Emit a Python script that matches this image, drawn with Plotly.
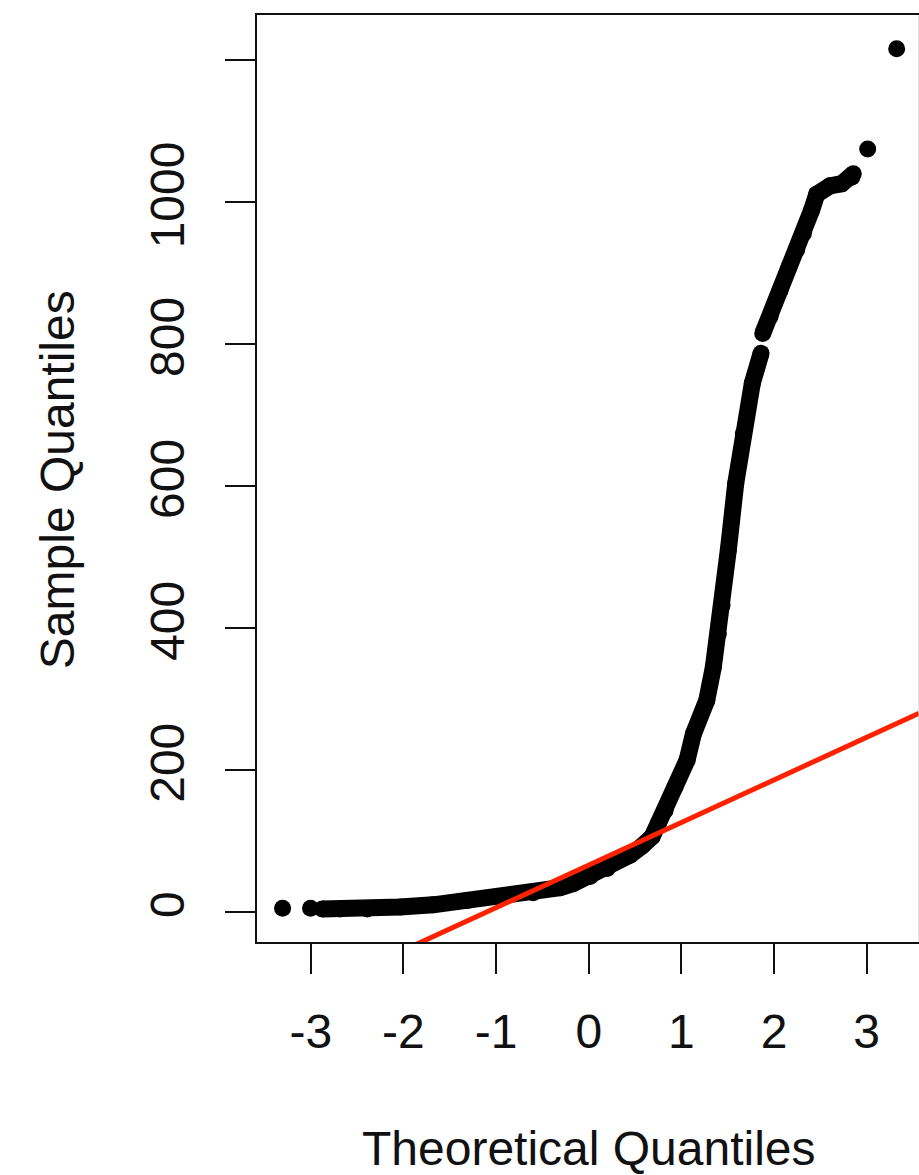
import plotly.graph_objects as go

# Theoretical (normal) quantiles and sorted sample values.
# None separates groups of points that do not touch each other.
theoretical_q = [-3.305, None, -3.003, None,
                 -2.877, -2.682, -2.391, -2.035, -1.679, -1.312, -0.956, -0.600,
                 -0.309, -0.168, 0.015, 0.199, 0.447, 0.576, 0.684, 0.752, 0.824,
                 0.932, 1.062, 1.130, 1.274, 1.345, 1.399, 1.439, 1.507, 1.587,
                 1.669, 1.766, 1.860, None,
                 1.878, 1.957, 2.065, 2.162, 2.245, 2.317, 2.407, 2.461, 2.605,
                 2.731, 2.839, 2.856, None,
                 3.011, None, 3.324]
sample_q = [5, None, 5, None,
            4, 4, 4, 7, 10, 16, 21, 27,
            34, 40, 50, 61, 80, 93, 106, 125, 143,
            176, 214, 251, 298, 345, 392, 432, 510, 604,
            674, 745, 787, None,
            815, 839, 876, 909, 933, 956, 989, 1011, 1023,
            1026, 1035, 1040, None,
            1075, None, 1216]

# qqline (through the quartiles)
qqline_intercept = 66.0
qqline_slope = 60.0

x_ticks = [-3, -2, -1, 0, 1, 2, 3]
y_ticks = [0, 200, 400, 600, 800, 1000, 1200]
y_tick_labels = ["0", "200", "400", "600", "800", "1000", ""]

x_range = [-3.581, 3.565]
y_range = [-42.4, 1263.7]

FONT = "Liberation Sans, Arial, Helvetica, sans-serif"

fig = go.Figure()

fig.add_trace(go.Scatter(
    x=theoretical_q, y=sample_q,
    mode="lines+markers",
    line=dict(color="black", width=17),
    marker=dict(color="black", size=17, line=dict(width=0)),
    connectgaps=False,
    hoverinfo="x+y",
    showlegend=False,
))

line_x = list(x_range)
line_y = [qqline_intercept + qqline_slope * v for v in line_x]
fig.add_trace(go.Scatter(
    x=line_x, y=line_y, mode="lines",
    line=dict(color="#ff2200", width=5),
    showlegend=False, hoverinfo="skip",
))

fig.update_layout(
    width=919, height=1175,
    margin=dict(l=257, r=0, t=15, b=233),
    paper_bgcolor="white", plot_bgcolor="white",
    font=dict(family=FONT, size=48, color="black"),
    showlegend=False,
    xaxis=dict(
        range=x_range, tickmode="array", tickvals=x_ticks,
        ticktext=[str(v) for v in x_ticks],
        ticks="outside", ticklen=30, tickwidth=2, tickcolor="#111",
        showline=True, linewidth=2, linecolor="#111", mirror=True,
        showgrid=False, zeroline=False,
        tickfont=dict(family=FONT, size=48, color="#111"),
        ticklabelstandoff=16,
    ),
    yaxis=dict(
        range=y_range, tickmode="array", tickvals=y_ticks,
        ticktext=y_tick_labels, tickangle=-90,
        ticks="outside", ticklen=30, tickwidth=2, tickcolor="#111",
        showline=True, linewidth=2, linecolor="#111", mirror=False,
        showgrid=False, zeroline=False,
        tickfont=dict(family=FONT, size=48, color="#111"),
        ticklabelstandoff=22,
    ),
    shapes=[dict(type="line", xref="paper", yref="paper", x0=1, x1=1, y0=0, y1=1,
                 line=dict(color="#c8c8c8", width=1))],
    annotations=[
        dict(text="Theoretical Quantiles", xref="paper", yref="paper",
             x=(589 - 257) / 662, y=(941.7 - 1148) / 926.7,
             xanchor="center", yanchor="middle", showarrow=False,
             font=dict(family=FONT, size=48, color="#111")),
        dict(text="Sample Quantiles", xref="paper", yref="paper",
             x=(57 - 257) / 662, y=(941.7 - 480) / 926.7, textangle=-90,
             xanchor="center", yanchor="middle", showarrow=False,
             font=dict(family=FONT, size=48, color="#111")),
    ],
)

fig.write_html(
    "out.html",
    config={"displayModeBar": False},
    post_script="document.body.style.margin='0';document.body.style.overflow='hidden';",
)
